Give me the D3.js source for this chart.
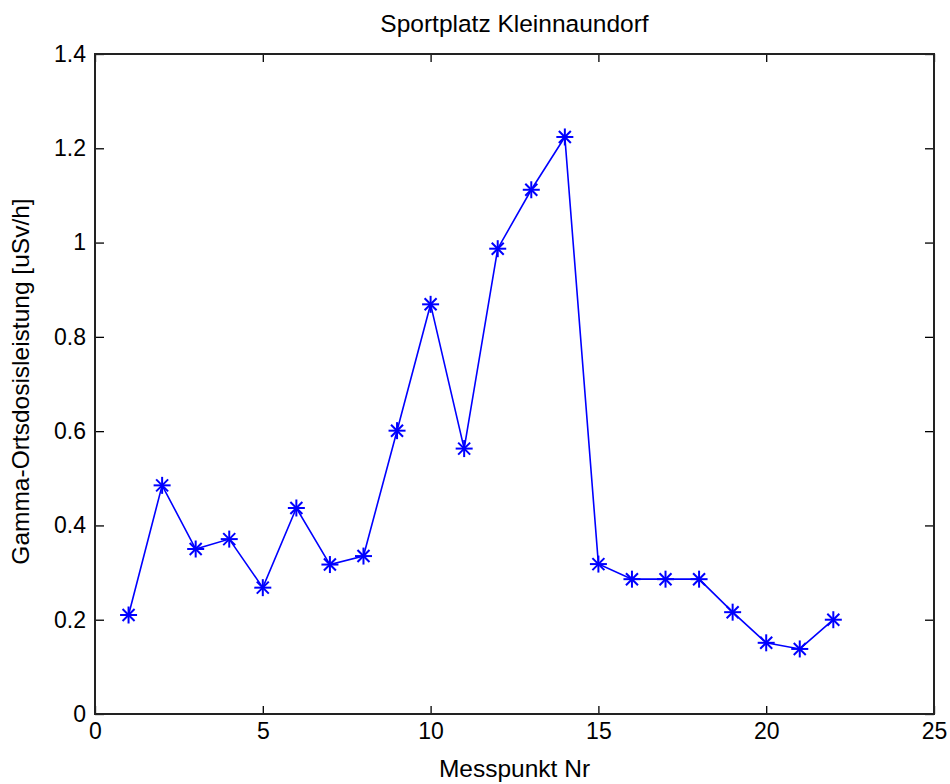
<!DOCTYPE html>
<html><head><meta charset="utf-8">
<script src="https://cdn.jsdelivr.net/npm/d3@7"></script>
<style>body{margin:0;background:#fff}svg{display:block}text{font-family:"Liberation Sans",Arial,sans-serif}</style>
</head><body><svg id="c" width="950" height="784"></svg>
<script>
const messpunkt = [1,2,3,4,5,6,7,8,9,10,11,12,13,14,15,16,17,18,19,20,21,22];
const dosis = [0.21,0.485,0.35,0.371,0.268,0.437,0.317,0.335,0.601,0.869,0.563,0.987,1.112,1.224,0.318,0.286,0.286,0.286,0.216,0.151,0.138,0.2];
const xTicks = [0,5,10,15,20,25];
const yTicks = [0,0.2,0.4,0.6,0.8,1,1.2,1.4];
const title = "Sportplatz Kleinnaundorf";
const xLabel = "Messpunkt Nr";
const yLabel = "Gamma-Ortsdosisleistung [uSv/h]";

const svg = d3.select("#c");
const L=95, R=934, T=54, B=714;
const x = d3.scaleLinear().domain([0,25]).range([L,R]);
const y = d3.scaleLinear().domain([0,1.4]).range([B,T]);
const fs = 23, fl = 24.5;

function style(g, hideLabels){
  g.select(".domain").remove();
  g.selectAll("line").attr("stroke","#000").attr("stroke-width",1.3);
  g.selectAll("text").attr("fill","#000").style("font-size",fs+"px");
  if(hideLabels) g.selectAll("text").remove();
}
svg.append("g").attr("transform",`translate(0,${B})`)
  .call(d3.axisBottom(x).tickValues(xTicks).tickFormat(d3.format("d")).tickSize(-8).tickPadding(9))
  .call(g=>style(g,false));
svg.append("g").attr("transform",`translate(0,${T})`)
  .call(d3.axisTop(x).tickValues(xTicks).tickSize(-8))
  .call(g=>style(g,true));
svg.append("g").attr("transform",`translate(${L},0)`)
  .call(d3.axisLeft(y).tickValues(yTicks).tickFormat(d=>String(+d.toFixed(1))).tickSize(-9).tickPadding(9))
  .call(g=>style(g,false));
svg.append("g").attr("transform",`translate(${R},0)`)
  .call(d3.axisRight(y).tickValues(yTicks).tickSize(-9))
  .call(g=>style(g,true));

svg.append("rect").attr("x",L).attr("y",T).attr("width",R-L).attr("height",B-T)
  .attr("fill","none").attr("stroke","#222").attr("stroke-width",2);

const pts = messpunkt.map((m,i)=>[m,dosis[i]]);
svg.append("path").datum(pts)
  .attr("d", d3.line().x(d=>x(d[0])).y(d=>y(d[1])))
  .attr("fill","none").attr("stroke","#0000ff").attr("stroke-width",1.6);

const r = 8.5, rd = 6;
const mk = svg.append("g").selectAll("g").data(pts).join("g")
  .attr("transform",d=>`translate(${x(d[0])},${y(d[1])})`)
  .attr("stroke","#0000ff").attr("stroke-width",2);
mk.append("line").attr("x1",-r).attr("x2",r);
mk.append("line").attr("y1",-r).attr("y2",r);
mk.append("line").attr("x1",-rd).attr("y1",-rd).attr("x2",rd).attr("y2",rd);
mk.append("line").attr("x1",-rd).attr("y1",rd).attr("x2",rd).attr("y2",-rd);

svg.append("text").attr("x",(L+R)/2).attr("y",32).attr("text-anchor","middle")
  .style("font-size",fl+"px").text(title);
svg.append("text").attr("x",(L+R)/2).attr("y",777).attr("text-anchor","middle")
  .style("font-size",fl+"px").text(xLabel);
svg.append("text").attr("transform",`translate(29,${(188+575)/2}) rotate(-90)`).attr("text-anchor","middle")
  .style("font-size",fl+"px").text(yLabel);
</script></body></html>
